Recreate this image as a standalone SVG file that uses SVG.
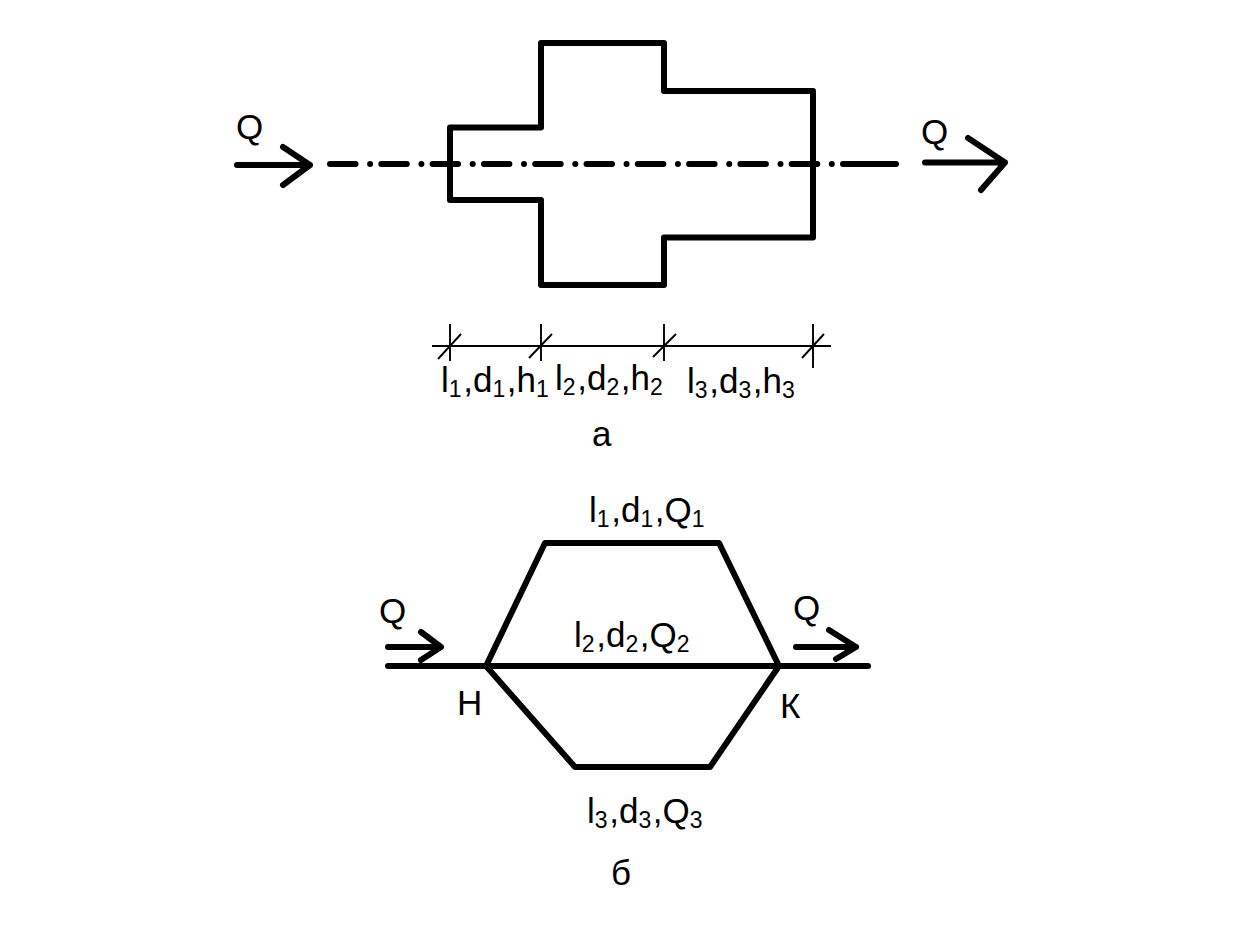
<svg xmlns="http://www.w3.org/2000/svg" width="1241" height="939" viewBox="0 0 1241 939">
<style>
.s{fill:none;stroke:#000;stroke-width:6;stroke-linecap:round;stroke-linejoin:round}
.c{fill:none;stroke:#000;stroke-width:6;stroke-linecap:round;stroke-dasharray:25.5 14.6 0 11.2}
.t{fill:none;stroke:#000;stroke-width:1.9}
text{font-family:"Liberation Sans",Arial,sans-serif;font-size:35px;fill:#000}
.u{font-size:23px;letter-spacing:1.6px}
</style>
<rect width="1241" height="939" fill="#fff"/>
<g id="connectors">
<path class="s" d="M450 127.500H541V43H664V91H813V237.500H664V285H541V200H450Z"/>
<path class="c" d="M330 164H833"/>
<path class="s" d="M843 164H896"/>
<path class="s" d="M237 165H310M283 147L310 165L283 185"/>
<path class="s" d="M925 162.500H1005M968 138L1005 162.500L981 190"/>
<path class="t" d="M432 346H831M450 324V361M541 324V361M664 324V361M813 324V368M438 359L461 334M529 358L552 334M653 357L676 334M802 358L824 334"/>
<path class="s" d="M486 666L545 543H719L779 666L710 767H575L486 666M388 666H868"/>
<path class="s" d="M388 647H441M421 632L441 647L421 660"/>
<path class="s" d="M796 647H856M829 630L856 647L836 659"/>
</g>
<g id="labels-a">
<text x="236" y="139">Q</text>
<text x="921" y="144">Q</text>
<text x="441" y="392">l<tspan class="u" dy="5">1</tspan><tspan dy="-5">,d</tspan><tspan class="u" dy="5">1</tspan><tspan dy="-5">,h</tspan><tspan class="u" dy="5">1</tspan></text>
<text x="555" y="390">l<tspan class="u" dy="5">2</tspan><tspan dy="-5">,d</tspan><tspan class="u" dy="5">2</tspan><tspan dy="-5">,h</tspan><tspan class="u" dy="5">2</tspan></text>
<text x="687" y="393">l<tspan class="u" dy="5">3</tspan><tspan dy="-5">,d</tspan><tspan class="u" dy="5">3</tspan><tspan dy="-5">,h</tspan><tspan class="u" dy="5">3</tspan></text>
<text x="592" y="446">а</text>
</g>
<g id="labels-b">
<text x="589" y="522">l<tspan class="u" dy="5">1</tspan><tspan dy="-5">,d</tspan><tspan class="u" dy="5">1</tspan><tspan dy="-5">,Q</tspan><tspan class="u" dy="5">1</tspan></text>
<text x="574" y="647">l<tspan class="u" dy="5">2</tspan><tspan dy="-5">,d</tspan><tspan class="u" dy="5">2</tspan><tspan dy="-5">,Q</tspan><tspan class="u" dy="5">2</tspan></text>
<text x="587" y="823">l<tspan class="u" dy="5">3</tspan><tspan dy="-5">,d</tspan><tspan class="u" dy="5">3</tspan><tspan dy="-5">,Q</tspan><tspan class="u" dy="5">3</tspan></text>
<text x="379" y="623">Q</text>
<text x="793" y="620">Q</text>
<text x="457" y="715">Н</text>
<text x="780" y="718">К</text>
<text x="611" y="885">б</text>
</g>
</svg>
